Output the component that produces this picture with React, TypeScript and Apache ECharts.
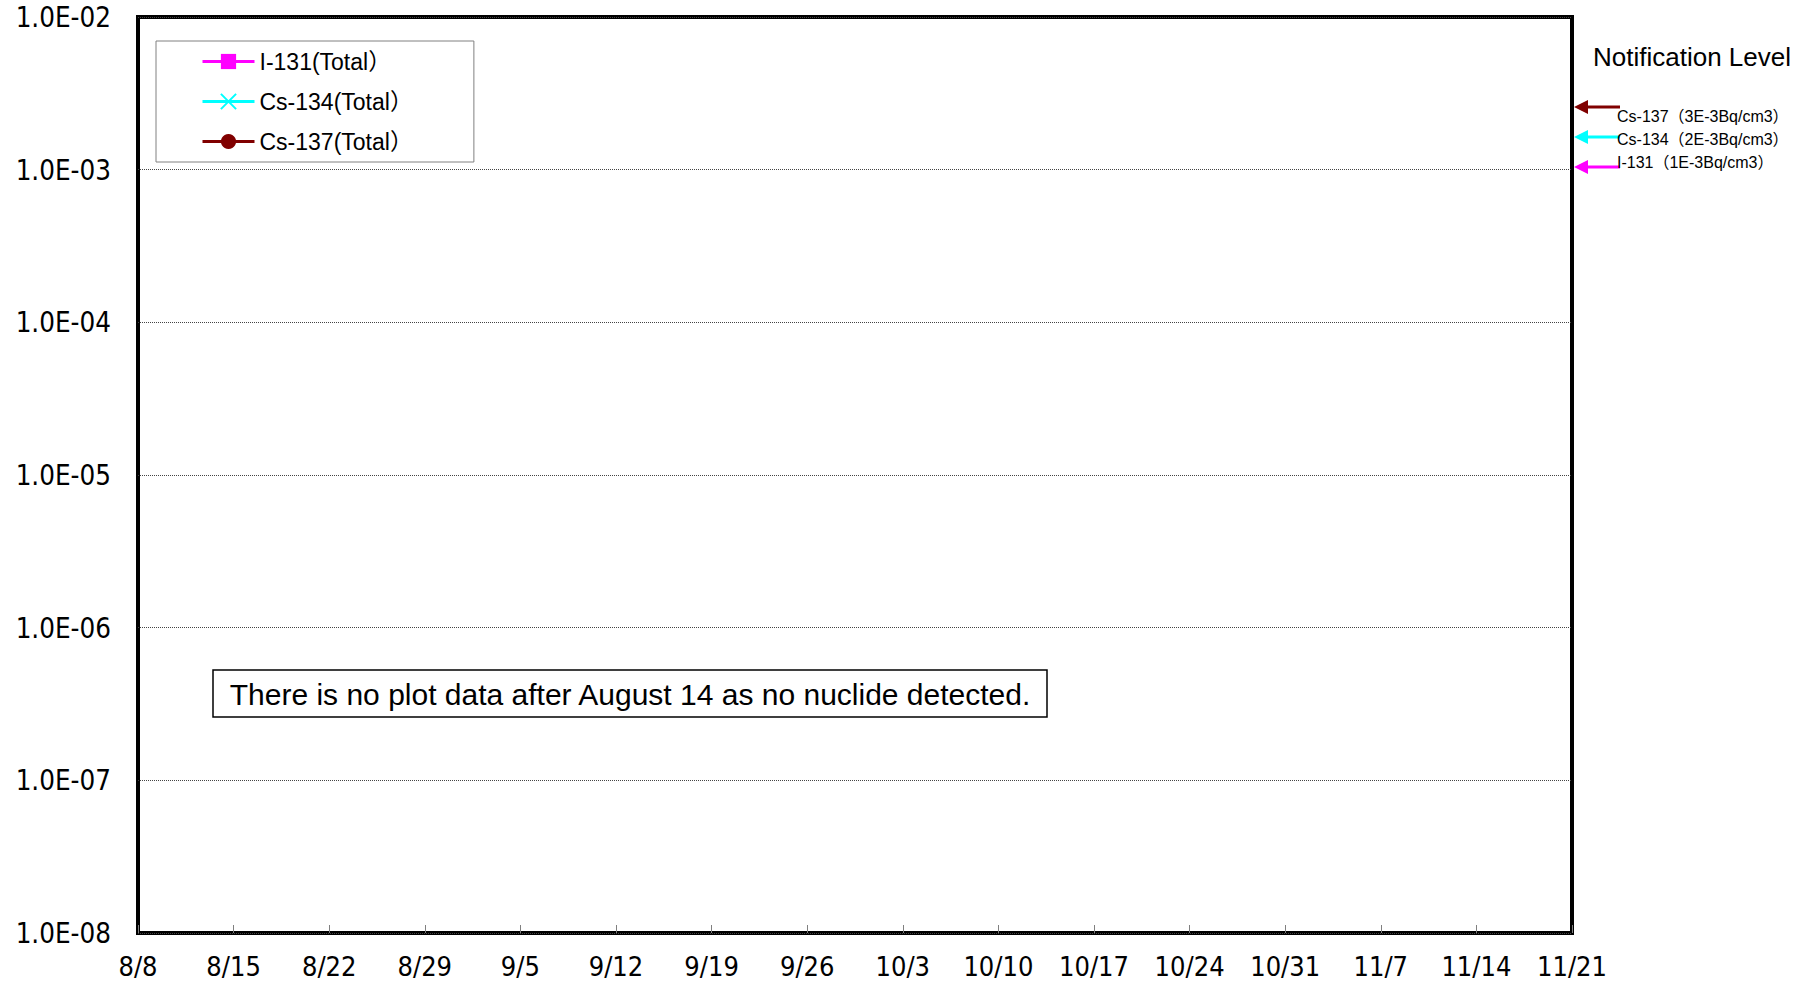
import React, { useEffect, useRef } from 'react';
import * as echarts from 'echarts';

// X axis: days since 8/8, one tick per week
const xTickLabels = ['8/8', '8/15', '8/22', '8/29', '9/5', '9/12', '9/19', '9/26', '10/3', '10/10', '10/17', '10/24', '10/31', '11/7', '11/14', '11/21'];
const daysPerTick = 7;

// Series (no nuclide detected -> no plotted points)
const seriesNames = ['I-131(Total）', 'Cs-134(Total）', 'Cs-137(Total）'];
const seriesColors = ['#FF00FF', '#00FFFF', '#800000'];
const seriesSymbols = ['rect', 'path://M0 0L10 10M10 0L0 10', 'circle'];
const i131: [number, number][] = [];
const cs134: [number, number][] = [];
const cs137: [number, number][] = [];

// Y axis range (Bq/cm3)
const yMin = 1e-8;
const yMax = 1e-2;

// Notification levels
const levelNuclides = ['Cs-137', 'Cs-134', 'I-131'];
const levelValues = ['3E-3', '2E-3', '1E-3'];
const levelColors = ['#800000', '#00FFFF', '#FF00FF'];

const noteText = 'There is no plot data after August 14 as no nuclide detected.';

const axisFont = '"DejaVu Sans Condensed", "Noto Sans CJK JP", sans-serif';
const textFont = '"Liberation Sans", Arial, "Noto Sans CJK JP", sans-serif';

export default function App() {
  const ref = useRef<HTMLDivElement>(null);

  useEffect(() => {
    document.body.style.margin = '0';
    const chart = echarts.init(ref.current!, undefined, { renderer: 'svg' });

    const arrowYs = [107, 137, 167];
    const labelYs = [116, 139, 162];
    const graphics: any[] = [
      {
        type: 'text',
        x: 1593,
        y: 57,
        style: { text: 'Notification Level', font: `26px ${textFont}`, fill: '#000', textAlign: 'left', textVerticalAlign: 'middle' },
      },
      {
        type: 'rect',
        shape: { x: 213, y: 670, width: 834, height: 47 },
        style: { fill: '#fff', stroke: '#000', lineWidth: 1.5 },
      },
      {
        type: 'text',
        x: 630,
        y: 694,
        style: { text: noteText, font: `30px ${textFont}`, fill: '#000', textAlign: 'center', textVerticalAlign: 'middle' },
      },
    ];
    levelNuclides.forEach((n, i) => {
      const y = arrowYs[i];
      graphics.push({
        type: 'line',
        shape: { x1: 1586, y1: y, x2: 1620, y2: y },
        style: { stroke: levelColors[i], lineWidth: 3 },
      });
      graphics.push({
        type: 'polygon',
        shape: { points: [[1574, y], [1588, y - 7], [1588, y + 7]] },
        style: { fill: levelColors[i] },
      });
      graphics.push({
        type: 'text',
        x: 1617,
        y: labelYs[i],
        style: { text: `${n}（${levelValues[i]}Bq/cm3）`, font: `16px ${textFont}`, fill: '#000', textAlign: 'left', textVerticalAlign: 'middle' },
      });
    });

    const dataSets = [i131, cs134, cs137];

    chart.setOption({
      animation: false,
      backgroundColor: '#fff',
      grid: {
        left: 138,
        right: 246,
        top: 17,
        bottom: 51,
        show: true,
        borderColor: '#000',
        borderWidth: 4,
      },
      legend: {
        orient: 'vertical',
        left: 156,
        top: 41,
        padding: [9, 61, 9, 45],
        itemWidth: 52,
        itemHeight: 19,
        itemGap: 17,
        borderColor: '#808080',
        borderWidth: 1,
        backgroundColor: '#fff',
        lineStyle: { width: 3 },
        textStyle: { fontFamily: textFont, fontSize: 23, color: '#000' },
        data: seriesNames,
      },
      xAxis: {
        type: 'value',
        min: 0,
        max: (xTickLabels.length - 1) * daysPerTick,
        interval: daysPerTick,
        axisLine: { show: false },
        axisTick: { show: true, inside: true, length: 8, lineStyle: { color: '#808080', width: 1 } },
        splitLine: { show: false },
        axisLabel: {
          margin: 20,
          fontFamily: axisFont,
          fontSize: 27,
          color: '#000',
          formatter: (v: number) => xTickLabels[Math.round(v / daysPerTick)] ?? '',
        },
      },
      yAxis: {
        type: 'log',
        logBase: 10,
        min: yMin,
        max: yMax,
        axisLine: { show: false },
        axisTick: { show: false },
        splitLine: { show: true, lineStyle: { type: 'dotted', color: '#444', width: 1 } },
        axisLabel: {
          margin: 27,
          fontFamily: axisFont,
          fontSize: 27.5,
          color: '#000',
          formatter: (v: number) => {
            const e = Math.round(Math.log10(v));
            return `1.0E${e < 0 ? '-' : '+'}${String(Math.abs(e)).padStart(2, '0')}`;
          },
        },
      },
      series: seriesNames.map((name, i) => ({
        name,
        type: 'line',
        data: dataSets[i],
        symbol: seriesSymbols[i],
        symbolSize: 15,
        lineStyle: { color: seriesColors[i], width: 2 },
        itemStyle: i === 1
          ? { color: seriesColors[i], borderColor: seriesColors[i], borderWidth: 2 }
          : { color: seriesColors[i] },
      })),
      graphic: graphics,
    });

    return () => chart.dispose();
  }, []);

  return <div ref={ref} style={{ width: 1818, height: 984 }} />;
}
